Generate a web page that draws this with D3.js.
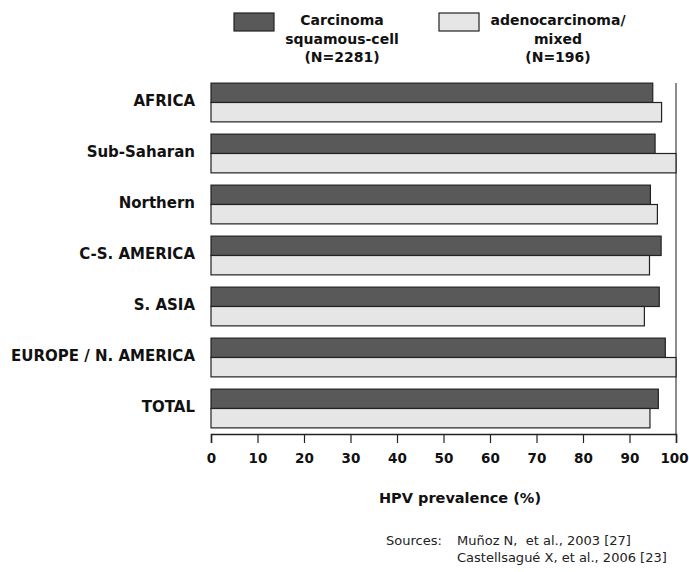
<!DOCTYPE html>
<html>
<head>
<meta charset="utf-8">
<script src="https://cdn.jsdelivr.net/npm/d3@7"></script>
<style>
  body { margin: 0; background: #fff; }
  svg text { font-family: "DejaVu Sans", Verdana, sans-serif; white-space: pre; }
</style>
</head>
<body>
<div id="chart"></div>
<script>
const regions = ["AFRICA", "Sub-Saharan", "Northern", "C-S. AMERICA", "S. ASIA", "EUROPE / N. AMERICA", "TOTAL"];
const squamous = [95.0, 95.5, 94.5, 96.8, 96.4, 97.7, 96.2];
const adeno = [96.9, 100, 96.0, 94.3, 93.2, 100, 94.4];
const seriesNames = [["Carcinoma", "squamous-cell", "(N=2281)"], ["adenocarcinoma/", "mixed", "(N=196)"]];
const xTicks = [0, 10, 20, 30, 40, 50, 60, 70, 80, 90, 100];

const width = 689, height = 572;
const svg = d3.select("#chart").append("svg")
    .attr("width", width)
    .attr("height", height);

const x = d3.scaleLinear().domain([0, 100]).range([211, 676]);
const y = d3.scaleBand().domain(regions).range([77, 434])
    .paddingInner(0.24).paddingOuter(0.12);
const sub = d3.scaleBand().domain([0, 1]).range([0, y.bandwidth()]);
const colors = ["#595959", "#e6e6e6"];

const rows = regions.map(function(r, i) { return { name: r, vals: [squamous[i], adeno[i]] }; });

// right frame line
svg.append("line")
    .attr("x1", x(100)).attr("x2", x(100))
    .attr("y1", y(regions[0])).attr("y2", y.range()[1])
    .attr("stroke", "#666").attr("stroke-width", 1.5);

const groups = svg.selectAll("g.row")
    .data(rows).enter()
    .append("g")
    .attr("class", "row")
    .attr("transform", function(d) { return `translate(0, ${y(d.name)})`; });

groups.selectAll("rect")
    .data(function(d) { return d.vals; }).enter()
    .append("rect")
    .attr("x", x(0))
    .attr("y", function(d, i) { return sub(i); })
    .attr("width", function(d) { return x(d) - x(0); })
    .attr("height", sub.bandwidth())
    .attr("fill", function(d, i) { return colors[i]; })
    .attr("stroke", "#222")
    .attr("stroke-width", 1.2);

groups.append("text")
    .attr("x", 195)
    .attr("y", y.bandwidth() / 2 + 3.5)
    .attr("text-anchor", "end")
    .attr("font-size", 15)
    .attr("font-weight", "bold")
    .attr("fill", "#111")
    .text(function(d) { return d.name; });

// x axis
const axis = svg.append("g")
    .attr("transform", `translate(0, ${y.range()[1]})`)
    .call(d3.axisBottom(x).tickValues(xTicks).tickSize(9).tickPadding(10));
axis.select(".domain").attr("stroke", "#222").attr("stroke-width", 1.5);
axis.selectAll(".tick line").attr("stroke", "#222").attr("stroke-width", 1.2);
axis.selectAll(".tick text")
    .attr("font-size", 13.5)
    .attr("font-weight", "bold")
    .attr("fill", "#111")
    .style("font-family", "'DejaVu Sans', Verdana, sans-serif");
axis.selectAll(".tick text").filter(function(d) { return d === 100; })
    .attr("dx", -2);

svg.append("text")
    .attr("x", 460).attr("y", 503)
    .attr("text-anchor", "middle")
    .attr("font-size", 14.5)
    .attr("font-weight", "bold")
    .attr("fill", "#111")
    .text("HPV prevalence (%)");

// legend
const legendX = [234, 439];
const legendTextX = [342, 558];
seriesNames.forEach(function(lines, i) {
    svg.append("rect")
        .attr("x", legendX[i]).attr("y", 13)
        .attr("width", 40).attr("height", 18)
        .attr("fill", colors[i])
        .attr("stroke", "#222").attr("stroke-width", 1.2);
    const t = svg.append("text")
        .attr("text-anchor", "middle")
        .attr("font-size", 14)
        .attr("font-weight", "bold")
        .attr("fill", "#111");
    lines.forEach(function(l, j) {
        t.append("tspan")
            .attr("x", legendTextX[i])
            .attr("y", 25 + j * 18.5)
            .text(l);
    });
});

// sources
svg.append("text")
    .attr("x", 386).attr("y", 545)
    .attr("font-size", 13)
    .attr("fill", "#222")
    .text("Sources:");
svg.append("text")
    .attr("x", 457).attr("y", 545)
    .attr("font-size", 13)
    .attr("fill", "#222")
    .text("Muñoz N,  et al., 2003 [27]");
svg.append("text")
    .attr("x", 457).attr("y", 562)
    .attr("font-size", 13)
    .attr("fill", "#222")
    .text("Castellsagué X, et al., 2006 [23]");
</script>
</body>
</html>
